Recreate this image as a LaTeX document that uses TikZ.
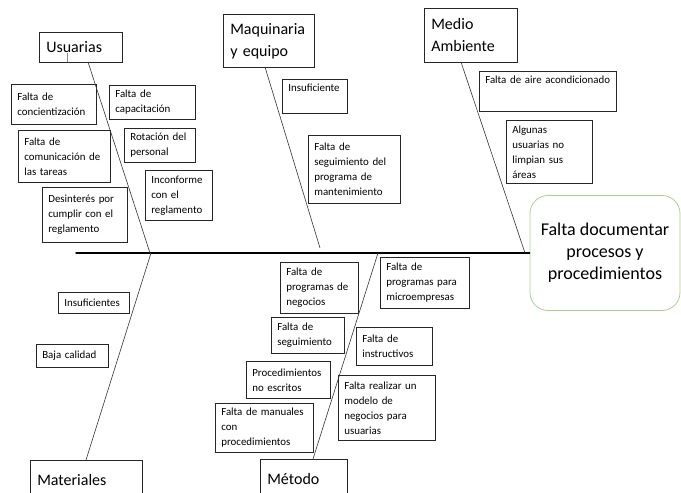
\documentclass[tikz,border=0pt]{standalone}
\usepackage{fontspec}
\setmainfont{Carlito}
\usepackage{tikz}
\usetikzlibrary{calc, positioning}
\usepackage{tkz-euclide}
\definecolor{leafgreen}{RGB}{169,209,142}
\hyphenpenalty=10000
\exhyphenpenalty=10000

\begin{document}
\begin{tikzpicture}[x=1pt, y=-1pt,
        box/.style={draw=black!85, line width=0.6pt, anchor=north west, align=left, inner xsep=6pt, inner ysep=5pt},
        cause/.style={box, font=\fontsize{10.9}{15}\selectfont},
        branch/.style={box, inner xsep=7pt, font=\fontsize{16}{22}\selectfont},
        effect/.style={draw=leafgreen, line width=0.8pt, rounded corners=18pt, align=center, font=\fontsize{18}{22}\selectfont, minimum width=150pt, minimum height=115pt}]
                \useasboundingbox (0,0) rectangle (681,493);
                % main categories
                \node[branch, text width=69pt, minimum height=30pt] (Us) at (39,32) {Usuarias};
                \node[branch, text width=77pt, minimum height=53pt] (Mq) at (223,14) {Maquinaria\\ y equipo};
                \node[branch, text width=79pt, minimum height=54pt] (Ma) at (424,8) {Medio\\ Ambiente};
                \node[branch, text width=98pt, minimum height=40pt] (Mt) at (30,460) {Materiales};
                \node[branch, text width=73pt, minimum height=40pt] (Me) at (260,459) {Método};
                \node[effect] (eff) at (605,253) {Falta documentar\\ procesos y\\ procedimientos};
                % causes
                \node[cause, text width=73pt, minimum height=40pt] (u1) at (11,84) {Falta de\\ concientización};
                \node[cause, text width=74pt, minimum height=34pt] (u2) at (109,85) {Falta de\\ capacitación};
                \node[cause, text width=80pt, minimum height=52pt] (u3) at (18,130) {Falta de\\ comunicación de\\ las tareas};
                \node[cause, text width=59pt, minimum height=33pt] (u4) at (124,128) {Rotación del\\ personal};
                \node[cause, text width=55pt, minimum height=50pt] (u5) at (145,170) {Inconforme\\ con el\\ reglamento};
                \node[cause, text width=73pt, minimum height=55pt] (u6) at (42,187) {Desinterés por\\ cumplir con el\\ reglamento};
                \node[cause, text width=53pt, text depth=16pt] (q1) at (282,79) {Insuficiente};
                \node[cause, text width=80pt, minimum height=68pt] (q2) at (308,135) {Falta de\\ seguimiento del\\ programa de\\ mantenimiento};
                \node[cause, text width=125pt, text depth=22pt] (e1) at (479,71) {Falta de aire acondicionado};
                \node[cause, text width=74pt, minimum height=63pt] (e2) at (506,120) {Algunas\\ usuarias no\\ limpian sus\\ áreas};
                \node[cause, text width=59pt, minimum height=21pt] (t1) at (58,292) {Insuficientes};
                \node[cause, text width=60pt, minimum height=23pt] (t2) at (36,344) {Baja calidad};
                \node[cause, text width=66pt, minimum height=51pt] (d1) at (280,262) {Falta de\\ programas de\\ negocios};
                \node[cause, text width=77pt, minimum height=51pt] (d2) at (380,257) {Falta de\\ programas para\\ microempresas};
                \node[cause, text width=61pt, minimum height=36pt] (d3) at (271,317) {Falta de\\ seguimiento};
                \node[cause, text width=64pt, minimum height=38pt] (d4) at (356,327) {Falta de\\ instructivos};
                \node[cause, text width=72pt, minimum height=37pt] (d5) at (246,361) {Procedimientos\\ no escritos};
                \node[cause, text width=85pt, minimum height=65pt] (d6) at (338,375) {Falta realizar un\\ modelo de\\ negocios para\\ usuarias};
                \node[cause, text width=86pt, minimum height=49pt] (d7) at (215,403) {Falta de manuales\\ con\\ procedimientos};
                % bones
                \tkzDefPoints{76/253/S, 88/62/U, 150/253/u, 265/67/Q, 320/248/q, 461/62/E, 525/253/e, 86/460/T, 151/253/t, 313/459/D, 378/253/d, 67/53/K, 67/62/k}
                \coordinate (F) at (eff.west);
                \tkzDrawSegments[black, line width=1.4pt](S,F)
                \tkzDrawSegments[black!80, line width=0.6pt](U,u Q,q E,e T,t D,d)
                \tkzDrawSegments[black!45, line width=0.4pt](K,k)
            \end{tikzpicture}
\end{document}
